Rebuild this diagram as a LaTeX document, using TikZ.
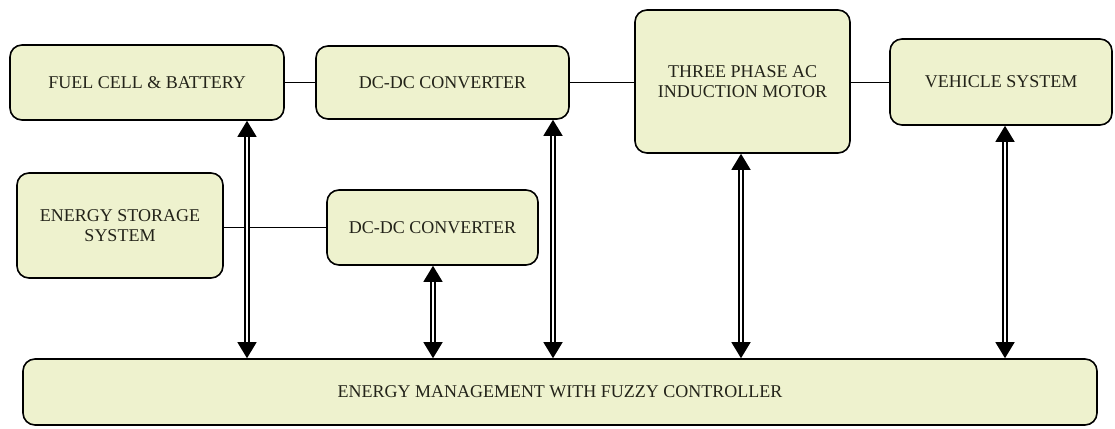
\documentclass[tikz,border=0pt]{standalone}
\usepackage{fontspec}
\setmainfont{Liberation Serif}
\usepackage{xcolor}
\usetikzlibrary{arrows.meta}

\definecolor{boxfill}{RGB}{238,242,206}
\definecolor{boxtext}{RGB}{35,35,25}

\tikzset{
  block/.style={draw=black, line width=1.6pt, rounded corners=12pt, fill=boxfill,
    text=boxtext, align=center, inner sep=0pt, font=\fontsize{18}{20}\selectfont},
  link/.style={draw=black, line width=1pt},
  biarrow/.style={draw=black, double, double distance=2.8pt, line width=1.4pt,
    {Triangle[width=19pt,length=16pt]}-{Triangle[width=19pt,length=16pt]}}
}

\begin{document}
\begin{tikzpicture}[x=1pt,y=-1pt]

      \useasboundingbox (0,0) rectangle (1115,428);

      % top row
      \node[block, minimum width=274pt, minimum height=75pt] (fuel) at (147,82.5) {FUEL CELL \& BATTERY};
      \node[block, minimum width=253pt, minimum height=73pt] (conv1) at (442.5,82.5) {DC-DC CONVERTER};
      \node[block, minimum width=215pt, minimum height=143pt] (motor) at (742.5,81.5) {THREE PHASE AC\\INDUCTION MOTOR};
      \node[block, minimum width=222pt, minimum height=86pt] (vehicle) at (1001,82) {VEHICLE SYSTEM};

      % storage row
      \node[block, minimum width=206pt, minimum height=105pt] (storage) at (120,225.5) {ENERGY STORAGE\\SYSTEM};
      \node[block, minimum width=211pt, minimum height=75pt] (conv2) at (432.5,227.5) {DC-DC CONVERTER};

      % controller
      \node[block, minimum width=1074pt, minimum height=66pt] (ems) at (560,392) {ENERGY MANAGEMENT WITH FUZZY CONTROLLER};

      \draw[link] (fuel.east) -- (conv1.west);
      \draw[link] (conv1.east) -- (motor.west |- conv1.east);
      \draw[link] (motor.east |- vehicle.west) -- (vehicle.west);
      \draw[link] (storage.east |- conv2.west) -- (conv2.west);

      % control links
      \coordinate (c1) at (247,0);
      \coordinate (c2) at (433,0);
      \coordinate (c3) at (553,0);
      \coordinate (c4) at (741,0);
      \coordinate (c5) at (1005,0);

      \draw[biarrow] (c1 |- fuel.south) -- (c1 |- ems.north);
      \draw[biarrow] (c2 |- conv2.south) -- (c2 |- ems.north);
      \draw[biarrow] (c3 |- conv1.south) -- (c3 |- ems.north);
      \draw[biarrow] (c4 |- motor.south) -- (c4 |- ems.north);
      \draw[biarrow] (c5 |- vehicle.south) -- (c5 |- ems.north);

    \end{tikzpicture}
\end{document}
